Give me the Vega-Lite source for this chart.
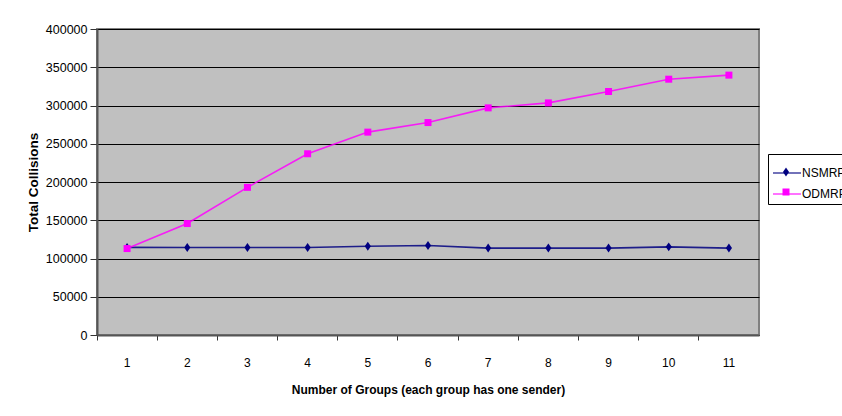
{
  "$schema": "https://vega.github.io/schema/vega-lite/v6.json",
  "autosize": "none",
  "width": 662,
  "height": 306,
  "padding": {"left": 97, "top": 29, "right": 83, "bottom": 81},
  "background": "white",
  "config": {
    "font": "Liberation Sans",
    "view": {"fill": "#C0C0C0", "stroke": "#808080", "strokeWidth": 2},
    "axis": {"labelFont": "Liberation Sans", "titleFont": "Liberation Sans", "labelColor": "#000", "titleColor": "#000"}
  },
  "data": {"values": [
    {"g": "1", "series": "NSMRP", "v": 114500},
    {"g": "2", "series": "NSMRP", "v": 114300},
    {"g": "3", "series": "NSMRP", "v": 114300},
    {"g": "4", "series": "NSMRP", "v": 114300},
    {"g": "5", "series": "NSMRP", "v": 116000},
    {"g": "6", "series": "NSMRP", "v": 117000},
    {"g": "7", "series": "NSMRP", "v": 113600},
    {"g": "8", "series": "NSMRP", "v": 113600},
    {"g": "9", "series": "NSMRP", "v": 113600},
    {"g": "10", "series": "NSMRP", "v": 115200},
    {"g": "11", "series": "NSMRP", "v": 113600},
    {"g": "1", "series": "ODMRP", "v": 113000},
    {"g": "2", "series": "ODMRP", "v": 145700},
    {"g": "3", "series": "ODMRP", "v": 193000},
    {"g": "4", "series": "ODMRP", "v": 236900},
    {"g": "5", "series": "ODMRP", "v": 265200},
    {"g": "6", "series": "ODMRP", "v": 277700},
    {"g": "7", "series": "ODMRP", "v": 296900},
    {"g": "8", "series": "ODMRP", "v": 303400},
    {"g": "9", "series": "ODMRP", "v": 318300},
    {"g": "10", "series": "ODMRP", "v": 334400},
    {"g": "11", "series": "ODMRP", "v": 339700}
  ]},
  "encoding": {
    "x": {
      "field": "g", "type": "ordinal", "sort": null,
      "scale": {"type": "band", "paddingInner": 0, "paddingOuter": 0},
      "bandPosition": 0.5,
      "axis": {
        "title": "Number of Groups (each group has one sender)",
        "titleFontSize": 12, "titleFontWeight": "bold", "titlePadding": 16,
        "labelFontSize": 12, "labelAngle": 0, "labelPadding": 17,
        "bandPosition": 0, "ticks": true, "tickSize": 5, "tickColor": "#333", "tickWidth": 1,
        "domainColor": "#555", "domainWidth": 2, "grid": false
      }
    },
    "y": {
      "field": "v", "type": "quantitative",
      "scale": {"domain": [0, 400000], "nice": false},
      "axis": {
        "title": "Total Collisions",
        "titleFontSize": 13.5, "titleFontWeight": "bold", "titlePadding": 5,
        "values": [0, 50000, 100000, 150000, 200000, 250000, 300000, 350000, 400000],
        "format": "d", "labelFontSize": 12.5, "labelPadding": 3,
        "tickSize": 7, "tickColor": "#333", "domainColor": "#555", "domainWidth": 2,
        "grid": true, "gridColor": "#000", "gridWidth": 1, "gridOpacity": 1
      }
    }
  },
  "resolve": {"legend": {"color": "independent", "shape": "independent"}},
  "layer": [
    {
      "mark": {"type": "line", "strokeWidth": 1.6, "opacity": 0.85},
      "encoding": {
        "color": {
          "field": "series", "type": "nominal",
          "scale": {"domain": ["NSMRP", "ODMRP"], "range": ["#000080", "#FF00FF"]},
          "legend": {
            "title": null, "orient": "none", "legendX": 671, "legendY": 125,
            "fillColor": "white", "strokeColor": "#000", "padding": 4,
            "labelFontSize": 12, "labelFont": "Liberation Sans", "labelColor": "#000",
            "symbolSize": 784, "rowPadding": 0, "labelOffset": 0,
            "symbolStrokeWidth": 1.3, "zindex": 1
          }
        }
      }
    },
    {
      "mark": {"type": "point", "filled": true, "opacity": 1, "size": 784},
      "encoding": {
        "color": {
          "field": "series", "type": "nominal",
          "scale": {"domain": ["NSMRP", "ODMRP"], "range": ["#000080", "#FF00FF"]},
          "legend": {
            "title": null, "orient": "none", "legendX": 671, "legendY": 125,
            "fillColor": null, "strokeColor": null, "padding": 4,
            "labelFontSize": 12, "labelFont": "Liberation Sans", "labelColor": "transparent", "labelExpr": "''",
            "symbolSize": 784, "rowPadding": 0, "labelOffset": 0,
            "symbolStrokeWidth": 0, "symbolOpacity": 1, "zindex": 2
          }
        },
        "shape": {
          "field": "series", "type": "nominal",
          "scale": {"domain": ["NSMRP", "ODMRP"], "range": ["M0,-0.32L0.22,0L0,0.32L-0.22,0Z", "M-0.25,-0.25L0.25,-0.25L0.25,0.25L-0.25,0.25Z"]},
          "legend": {
            "title": null, "orient": "none", "legendX": 671, "legendY": 125,
            "fillColor": null, "strokeColor": null, "padding": 4,
            "labelFontSize": 12, "labelFont": "Liberation Sans", "labelColor": "transparent", "labelExpr": "''",
            "symbolSize": 784, "rowPadding": 0, "labelOffset": 0,
            "symbolStrokeWidth": 0, "symbolOpacity": 1, "zindex": 2
          }
        }
      }
    }
  ]
}
